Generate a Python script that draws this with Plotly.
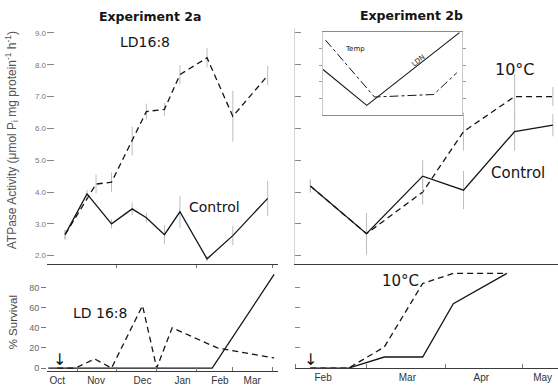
import plotly.graph_objects as go

W, H = 558, 386

# ---------------- Experiment 2a : gill ATPase activity ----------------
dates_2a_control = ["1984-10-22", "1984-11-08", "1984-11-27", "1984-12-13", "1984-12-24",
                    "1985-01-07", "1985-01-19", "1985-02-09", "1985-03-01", "1985-03-28"]
atpase_2a_control = [2.66, 3.94, 3.00, 3.47, 3.19, 2.66, 3.38, 1.90, 2.63, 3.80]
atpase_2a_control_sd = [0.15, 0.12, 0.15, 0.20, 0.15, 0.30, 0.50, 0.08, 0.30, 0.55]

dates_2a_ld = ["1984-10-22", "1984-11-15", "1984-11-27", "1984-12-13", "1984-12-24",
               "1985-01-07", "1985-01-19", "1985-02-09", "1985-03-01", "1985-03-28"]
atpase_2a_ld = [2.66, 4.25, 4.31, 5.60, 6.53, 6.60, 7.69, 8.22, 6.38, 7.66]
atpase_2a_ld_sd = [0.15, 0.30, 0.30, 0.45, 0.25, 0.20, 0.30, 0.30, 0.80, 0.30]

# ---------------- Experiment 2a : % survival ----------------
dates_2a_surv_ld = ["1984-10-16", "1984-10-30", "1984-11-14", "1984-11-27", "1984-12-21",
                    "1985-01-01", "1985-01-13", "1985-02-17", "1985-04-02"]
survival_2a_ld = [0, 0, 9, 0, 62, 0, 40, 20, 10]
dates_2a_surv_control = ["1984-10-09", "1984-11-27", "1985-01-01", "1985-02-13", "1985-04-02"]
survival_2a_control = [0, 0, 0, 0, 93]
transfer_2a = "1984-10-18"

# ---------------- Experiment 2b : gill ATPase activity ----------------
dates_2b = ["1985-02-07", "1985-03-01", "1985-03-23", "1985-04-08", "1985-04-28", "1985-05-13"]
atpase_2b_control = [4.19, 2.69, 4.50, 4.06, 5.90, 6.10]
atpase_2b_control_sd = [0.20, 0.65, 0.50, 0.60, 0.60, 0.35]
atpase_2b_10c = [4.19, 2.69, 4.00, 5.90, 7.00, 7.00]
atpase_2b_10c_sd = [0.20, 0.65, 0.40, 0.60, 0.70, 0.30]

# ---------------- Experiment 2b : % survival ----------------
dates_2b_surv = ["1985-02-07", "1985-02-22", "1985-03-08", "1985-03-23", "1985-04-04", "1985-04-25"]
survival_2b_10c = [0, 0, 21, 84, 94, 94]
survival_2b_control = [0, 0, 11, 11, 64, 94]
transfer_2b = "1985-02-07"

# ---------------- Inset: natural day length and water temperature ----------------
inset_ldn_dates = ["1985-02-12", "1985-03-01", "1985-04-06"]
inset_ldn = [5.5, 1.2, 9.9]
inset_temp_dates = ["1985-02-13", "1985-03-04", "1985-03-27", "1985-04-05"]
inset_temp = [9.0, 2.2, 2.5, 5.1]

# ---------------- Axis ticks ----------------
months_2a_labels = ["Oct", "Nov", "Dec", "Jan", "Feb", "Mar"]
months_2a_pos = ["1984-10-16", "1984-11-15", "1984-12-21", "1985-01-21", "1985-02-19", "1985-03-16"]
months_2b_labels = ["Feb", "Mar", "Apr", "May"]
months_2b_pos = ["1985-02-12", "1985-03-17", "1985-04-15", "1985-05-09"]
atpase_ticks = [2, 3, 4, 5, 6, 7, 8, 9]
survival_ticks = [0, 20, 40, 60, 80]

INK = "#151515"
ERR = "#bdbdbd"
DASH = "6px,4px"


def px_x(p):
    return p / W


def px_y(p):
    return 1 - p / H


def line(x, y, xa, ya, dash="solid", width=1.3, err=None):
    tr = dict(x=x, y=y, mode="lines", xaxis=xa, yaxis=ya, hoverinfo="skip",
              line=dict(color=INK, width=width, dash=dash))
    if err is not None:
        tr["error_y"] = dict(type="data", array=err, color=ERR, thickness=1, width=0)
    return go.Scatter(**tr)


fig = go.Figure()

# Experiment 2a
fig.add_trace(line(dates_2a_ld, atpase_2a_ld, "x", "y", DASH, err=atpase_2a_ld_sd))
fig.add_trace(line(dates_2a_control, atpase_2a_control, "x", "y", err=atpase_2a_control_sd))
fig.add_trace(line(dates_2a_surv_ld, survival_2a_ld, "x2", "y2", DASH))
fig.add_trace(line(dates_2a_surv_control, survival_2a_control, "x2", "y2"))

# Experiment 2b
fig.add_trace(line(dates_2b, atpase_2b_10c, "x3", "y3", DASH, err=atpase_2b_10c_sd))
fig.add_trace(line(dates_2b, atpase_2b_control, "x3", "y3", err=atpase_2b_control_sd))
fig.add_trace(line(dates_2b_surv, survival_2b_10c, "x4", "y4", DASH))
fig.add_trace(line(dates_2b_surv, survival_2b_control, "x4", "y4"))

# Inset
fig.add_trace(line(inset_ldn_dates, inset_ldn, "x5", "y5", width=1.1))
fig.add_trace(line(inset_temp_dates, inset_temp, "x5", "y5", "dashdot", width=1.0))

left_dom = [px_x(47), px_x(278)]
right_dom = [px_x(295), 1.0]
top_dom = [px_y(265), px_y(28)]
range_2a = ["1984-10-08", "1985-04-05"]
range_2b = ["1985-02-01", "1985-05-15"]

tick_font = dict(family="Liberation Sans, Arial, sans-serif", size=8, color="#777")
month_font = dict(family="Liberation Sans, Arial, sans-serif", size=10, color="#333")

base_x = dict(type="date", showgrid=False, zeroline=False, showline=True,
              linecolor="#3a3a3a", linewidth=1)
base_y = dict(showgrid=False, zeroline=False)

fig.update_layout(
    width=W, height=H,
    margin=dict(l=0, r=0, t=0, b=0),
    paper_bgcolor="white", plot_bgcolor="white",
    showlegend=False,
    xaxis=dict(base_x, domain=left_dom, range=range_2a, anchor="y",
               showticklabels=False, ticks="",
               minor=dict(dtick="M1", tick0="1984-10-01", ticks="outside", ticklen=3,
                          tickcolor="#777", showgrid=False)),
    yaxis=dict(base_y, domain=top_dom, range=[1.75, 9.16], anchor="x",
               tickmode="array", tickvals=atpase_ticks,
               ticktext=[f"{v:.1f}" for v in atpase_ticks],
               ticks="inside", ticklen=7, tickcolor="#888", tickfont=tick_font),
    xaxis2=dict(base_x, domain=left_dom, range=range_2a, anchor="y2",
                tickmode="array", tickvals=months_2a_pos, ticktext=months_2a_labels,
                ticks="", tickfont=month_font,
                minor=dict(dtick="M1", tick0="1984-10-01", ticks="inside", ticklen=4,
                           tickcolor="#777", showgrid=False)),
    yaxis2=dict(base_y, domain=[px_y(373), px_y(265)], range=[-3, 103.7], anchor="x2",
                tickmode="array", tickvals=survival_ticks,
                ticks="outside", ticklen=5, tickcolor="#777",
                tickfont=dict(tick_font, size=9, color="#666")),
    xaxis3=dict(base_x, domain=right_dom, range=range_2b, anchor="y3",
                showticklabels=False, ticks="",
                minor=dict(dtick="M1", tick0="1985-02-01", ticks="outside", ticklen=3,
                           tickcolor="#777", showgrid=False)),
    yaxis3=dict(base_y, domain=top_dom, range=[1.75, 9.16], anchor="x3",
                tickmode="array", tickvals=atpase_ticks, showticklabels=False,
                ticks="inside", ticklen=6, tickcolor="#888",
                showline=True, linecolor="#d5d5d5", linewidth=1),
    xaxis4=dict(base_x, domain=right_dom, range=range_2b, anchor="y4",
                tickmode="array", tickvals=months_2b_pos, ticktext=months_2b_labels,
                ticks="", tickfont=month_font,
                minor=dict(dtick="M1", tick0="1985-02-01", ticks="inside", ticklen=4,
                           tickcolor="#777", showgrid=False)),
    yaxis4=dict(base_y, domain=[px_y(370), px_y(265)], range=[0, 103.7], anchor="x4",
                tickmode="array", tickvals=survival_ticks, showticklabels=False,
                ticks="inside", ticklen=5, tickcolor="#888"),
    xaxis5=dict(base_x, domain=[px_x(323), px_x(462)], range=["1985-02-12", "1985-04-07"],
                anchor="y5", linecolor="#8a8a8a", mirror=True,
                showticklabels=False, ticks=""),
    yaxis5=dict(base_y, domain=[px_y(116), px_y(32)], range=[0, 10], anchor="x5",
                showline=True, linecolor="#c8c8c8", linewidth=1, mirror="ticks",
                tickmode="array", tickvals=[2, 4, 6, 8], showticklabels=False,
                ticks="outside", ticklen=3, tickcolor="#999"),
)

label_font = dict(family="DejaVu Sans, sans-serif", size=14, color=INK)
title_font = dict(family="DejaVu Sans, sans-serif", size=12.5, color=INK)


def note(text, x, y, font, angle=0):
    fig.add_annotation(text=text, x=px_x(x), y=px_y(y), xref="paper", yref="paper",
                       showarrow=False, font=font, textangle=angle,
                       xanchor="center", yanchor="middle")


note("<b>Experiment 2a</b>", 150, 17, title_font)
note("<b>Experiment 2b</b>", 411, 16, title_font)
note("LD16:8", 145, 42, label_font)
note("Control", 215, 208, label_font)
note("10°C", 515, 70, dict(label_font, size=16))
note("Control", 518, 174, dict(label_font, size=15))
note("LD 16:8", 100, 315, label_font)
note("10°C", 400, 282, dict(label_font, size=15))
note("Temp", 355, 49, dict(label_font, size=7))
note("LDN", 418, 61, dict(label_font, size=7), angle=-38)
note("ATPase Activity (μmol P<sub>i</sub> mg protein<sup>-1</sup> h<sup>-1</sup>)", 12, 141,
     dict(family="Liberation Sans, Arial, sans-serif", size=12, color="#555"), angle=-90)
note("% Survival", 13, 324,
     dict(family="Liberation Sans, Arial, sans-serif", size=11.5, color="#444"), angle=-90)

# transfer dates marked with a downward arrow just above the baseline
for xd, xr, yr in [(transfer_2a, "x2", "y2"), (transfer_2b, "x4", "y4")]:
    fig.add_annotation(x=xd, y=0, xref=xr, yref=yr, text="↓", showarrow=False,
                       yanchor="bottom", xanchor="center", yshift=-3,
                       font=dict(family="DejaVu Sans, sans-serif", size=16, color=INK))

fig.write_html("out.html")
